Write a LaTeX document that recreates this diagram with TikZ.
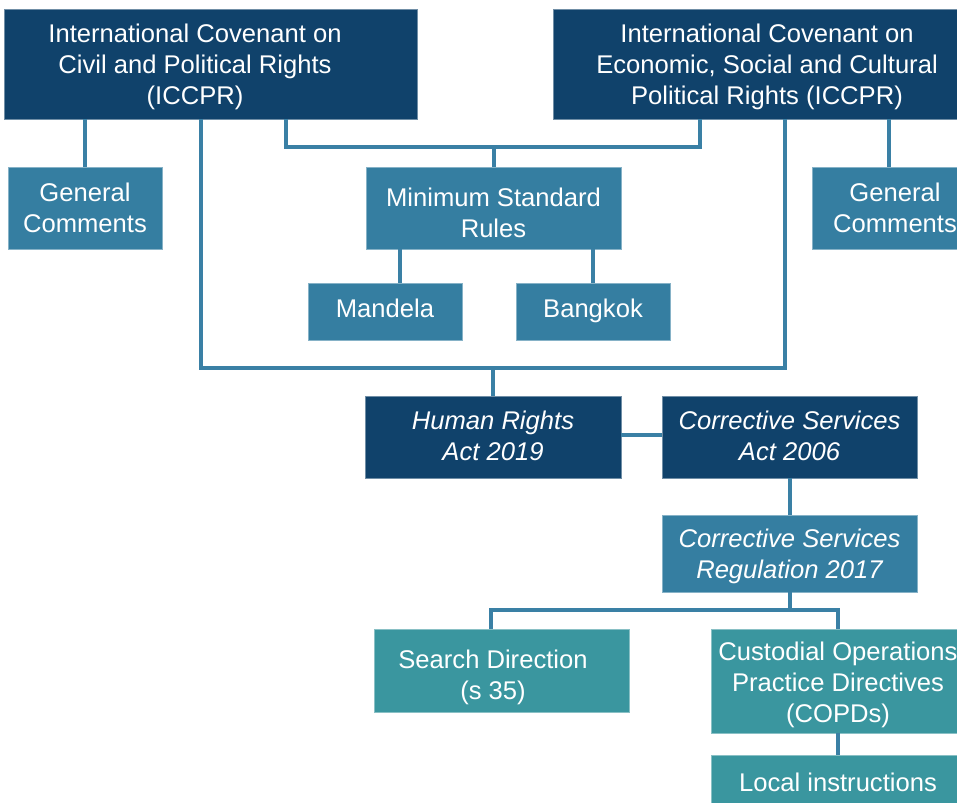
\documentclass[tikz,border=0pt]{standalone}
\usepackage{fontspec}
\setmainfont{Liberation Sans}
\definecolor{navy}{HTML}{10426B}
\definecolor{midb}{HTML}{357EA1}
\definecolor{tealb}{HTML}{3A969F}
\definecolor{connc}{HTML}{3A80A5}
\begin{document}
\begin{tikzpicture}[x=1pt,y=-1pt]
\tikzset{
  boxbase/.style={rectangle, inner sep=0pt, line width=0.6pt},
  navybox/.style={boxbase, fill=navy, draw=navy!60!white},
  midbox/.style={boxbase, fill=midb, draw=midb!60!white},
  tealbox/.style={boxbase, fill=tealb, draw=tealb!60!white},
  plaintext/.style={inner sep=0pt, text=white, align=center, font=\fontsize{25.6}{31}\selectfont},
  conn/.style={draw=connc, line width=4pt, line join=miter}
}
\useasboundingbox (0,0) rectangle (957,802);
% boxes
\node[navybox, minimum width=413, minimum height=110] (iccpr) at (210.5,64) {};
\node[navybox, minimum width=428, minimum height=110] (icescr) at (767,64) {};
\node[midbox, minimum width=154, minimum height=82] (gcl) at (85,208) {};
\node[midbox, minimum width=166, minimum height=82] (gcr) at (895,208) {};
\node[midbox, minimum width=255, minimum height=82] (msr) at (493.5,208) {};
\node[midbox, minimum width=154, minimum height=57] (mandela) at (385,311.5) {};
\node[midbox, minimum width=154, minimum height=57] (bangkok) at (593,311.5) {};
\node[navybox, minimum width=256, minimum height=82] (hra) at (493,437) {};
\node[navybox, minimum width=255, minimum height=82] (csa) at (789.5,437) {};
\node[midbox, minimum width=255, minimum height=77] (reg) at (789.5,553.5) {};
\node[tealbox, minimum width=255, minimum height=83] (search) at (501.5,670.5) {};
\node[tealbox, minimum width=254, minimum height=104] (copd) at (838,681) {};
\node[tealbox, minimum width=254, minimum height=54] (local) at (838,782) {};
% texts
\node[plaintext] (iccprT) at (195,67) {International Covenant on\\Civil and Political Rights\\(ICCPR)};
\node[plaintext] (icescrT) at (767,67) {International Covenant on\\Economic, Social and Cultural\\Political Rights (ICCPR)};
\node[plaintext] (gclT) at (85,208) {General\\Comments};
\node[plaintext] (gcrT) at (895,208) {General\\Comments};
\node[plaintext] (msrT) at (493.5,213) {Minimum Standard\\Rules};
\node[plaintext] (mandelaT) at (385,308) {Mandela};
\node[plaintext] (bangkokT) at (593,310.5) {Bangkok};
\node[plaintext] (hraT) at (493,436) {\itshape Human Rights\\\itshape Act 2019};
\node[plaintext] (csaT) at (789.5,436) {\itshape Corrective Services\\\itshape Act 2006};
\node[plaintext] (regT) at (789.5,556.5) {\itshape Corrective Services\\\itshape Regulation 2017};
\node[plaintext] (searchT) at (493,677) {Search Direction\\(s 35)};
\node[plaintext] (copdT) at (838,685) {Custodial Operations\\Practice Directives\\(COPDs)};
\node[plaintext] (localT) at (838,782) {Local instructions};
% bus coordinates
\coordinate (xa) at (286,147);
\coordinate (xb) at (700,147);
\coordinate (ya) at (201,368);
\coordinate (yb) at (785,368);
\coordinate (xgr) at (889,0);
\coordinate (xm) at (400,0);
\coordinate (zl) at (491,610);
\coordinate (zr) at (838,610);
% connectors
\draw[conn] (gcl.north) -- (gcl.north |- iccpr.south);
\draw[conn] (xgr |- gcr.north) -- (xgr |- icescr.south);
\draw[conn] (xa |- iccpr.south) -- (xa) -- (xb) -- (xb |- icescr.south);
\draw[conn] (msr.north) -- (msr.north |- xa);
\draw[conn] (ya |- iccpr.south) -- (ya) -- (yb) -- (yb |- icescr.south);
\draw[conn] (hra.north) -- (hra.north |- ya);
\draw[conn] (xm |- msr.south) -- (xm |- mandela.north);
\draw[conn] (bangkok.north) -- (bangkok.north |- msr.south);
\draw[conn] ([yshift=2pt]hra.east) -- ([yshift=2pt]csa.west);
\draw[conn] (csa.south) -- (reg.north);
\draw[conn] (reg.south) -- (reg.south |- zl);
\draw[conn] (zl |- search.north) -- (zl) -- (zr) -- (copd.north);
\draw[conn] (copd.south) -- (local.north);
\end{tikzpicture}
\end{document}
